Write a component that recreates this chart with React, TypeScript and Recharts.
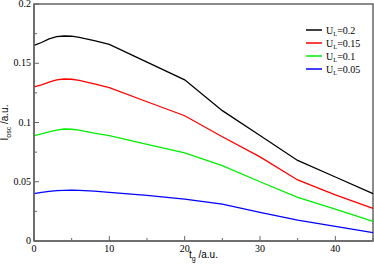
import {
  Label,
  Legend,
  Line,
  LineChart,
  ReferenceArea,
  XAxis,
  YAxis,
} from "recharts";

const tValues = [0, 1, 2, 3, 4, 5, 6, 8, 10, 15, 20, 25, 30, 35, 40, 45];
const ul02 = [0.165, 0.1675, 0.1705, 0.1725, 0.173, 0.1728, 0.1718, 0.169, 0.166, 0.151, 0.136, 0.11, 0.089, 0.068, 0.054, 0.04];
const ul015 = [0.13, 0.1318, 0.134, 0.136, 0.1367, 0.1365, 0.1355, 0.1325, 0.1294, 0.1175, 0.1057, 0.088, 0.071, 0.0515, 0.039, 0.0276];
const ul01 = [0.089, 0.0905, 0.092, 0.0935, 0.0945, 0.0943, 0.0935, 0.091, 0.0889, 0.0815, 0.0743, 0.0636, 0.05, 0.0369, 0.027, 0.0166];
const ul005 = [0.04, 0.041, 0.0418, 0.0425, 0.0428, 0.043, 0.0428, 0.0421, 0.0411, 0.0385, 0.0354, 0.0312, 0.0242, 0.0177, 0.0123, 0.007];

const seriesKeys = ["u02", "u015", "u01", "u005"];
const seriesLabels = ["0.2", "0.15", "0.1", "0.05"];
const seriesColors = ["#000000", "#ff0000", "#00ee00", "#0000ff"];

const xTicks = [0, 5, 10, 15, 20, 25, 30, 35, 40, 45];
const yTicks = [0, 0.025, 0.05, 0.075, 0.1, 0.125, 0.15, 0.175, 0.2];
const yTickLabels: Record<string, string> = { "0": "0", "0.05": "0.05", "0.1": "0.1", "0.15": "0.15", "0.2": "0.2" };

const data = tValues.map((t, i) => ({
  t,
  u02: ul02[i],
  u015: ul015[i],
  u01: ul01[i],
  u005: ul005[i],
}));

const serif = '"Liberation Serif", "Times New Roman", serif';
const sans = '"Liberation Sans", Arial, sans-serif';
const axisColor = "#666";

function XTick({ x, y, payload }: any) {
  const major = payload.value % 10 === 0;
  return (
    <g>
      <line x1={x} y1={y} x2={x} y2={y - (major ? 5 : 3)} stroke={axisColor} strokeWidth={1} />
      {major && payload.value !== 45 && (
        <text x={x} y={y + 11} textAnchor="middle" style={{ fontFamily: serif, fontSize: 10 }} fill="#000">
          {payload.value}
        </text>
      )}
    </g>
  );
}

function YTick({ x, y, payload }: any) {
  const label = yTickLabels[String(payload.value)];
  const major = label !== undefined;
  return (
    <g>
      <line x1={x} y1={y} x2={x + (major ? 5 : 3)} y2={y} stroke={axisColor} strokeWidth={1} />
      {major && (
        <text x={x - 3} y={y + 3} textAnchor="end" style={{ fontFamily: serif, fontSize: 10 }} fill="#000">
          {label}
        </text>
      )}
    </g>
  );
}

function LegendBox() {
  return (
    <svg width={68} height={56}>
      {seriesKeys.map((k, i) => (
        <g key={k}>
          <line x1={2} y1={7 + 13 * i} x2={18} y2={7 + 13 * i} stroke={seriesColors[i]} strokeWidth={1.5} />
          <text x={22} y={10.5 + 13 * i} style={{ fontFamily: serif, fontSize: 10 }} fill="#000">
            U
            <tspan style={{ fontSize: 6.5 }} dy={2.5}>L</tspan>
            <tspan dy={-2.5}>={seriesLabels[i]}</tspan>
          </text>
        </g>
      ))}
    </svg>
  );
}

export default function App() {
  return (
    <div style={{ position: "absolute", left: 0, top: 0, width: 374, height: 268, background: "#fff" }}>
      <LineChart width={374} height={268} data={data} margin={{ top: 4, right: 1, bottom: 0, left: 0 }}>
        <ReferenceArea x1={0} x2={45} y1={0} y2={0.2} fill="none" stroke={axisColor} strokeWidth={1.5} />
        <XAxis
          dataKey="t"
          type="number"
          domain={[0, 45]}
          ticks={xTicks}
          interval={0}
          height={27}
          tickSize={0}
          tickMargin={0}
          tickLine={false}
          axisLine={{ stroke: axisColor, strokeWidth: 1.5 }}
          tick={<XTick />}
        >
          <Label
            content={({ viewBox }: any) => (
              <text x={viewBox.x + viewBox.width / 2} y={viewBox.y + 17} textAnchor="middle" style={{ fontFamily: sans, fontSize: 10 }} fill="#000">
                t<tspan style={{ fontSize: 7 }} dy={3}>g</tspan>
                <tspan dy={-3}> /a.u.</tspan>
              </text>
            )}
          />
        </XAxis>
        <YAxis
          type="number"
          domain={[0, 0.2]}
          ticks={yTicks}
          interval={0}
          width={34}
          tickSize={0}
          tickMargin={0}
          tickLine={false}
          axisLine={{ stroke: axisColor, strokeWidth: 1.5 }}
          tick={<YTick />}
        >
          <Label
            content={({ viewBox }: any) => {
              const cx = 8;
              const cy = viewBox.y + viewBox.height / 2;
              return (
                <text x={cx} y={cy} transform={`rotate(-90 ${cx} ${cy})`} textAnchor="middle" style={{ fontFamily: sans, fontSize: 10 }} fill="#000">
                  I<tspan style={{ fontSize: 7 }} dy={3}>osc</tspan>
                  <tspan dy={-3}> /a.u.</tspan>
                </text>
              );
            }}
          />
        </YAxis>
        <Legend
          layout="horizontal"
          verticalAlign="middle"
          align="center"
          content={() => <LegendBox />}
          wrapperStyle={{ position: "absolute", left: 304, top: 23, width: 68, height: 56 }}
        />
        {seriesKeys.map((k, i) => (
          <Line
            key={k}
            dataKey={k}
            stroke={seriesColors[i]}
            strokeWidth={1.3}
            dot={false}
            type="linear"
            isAnimationActive={false}
          />
        ))}
      </LineChart>
    </div>
  );
}
